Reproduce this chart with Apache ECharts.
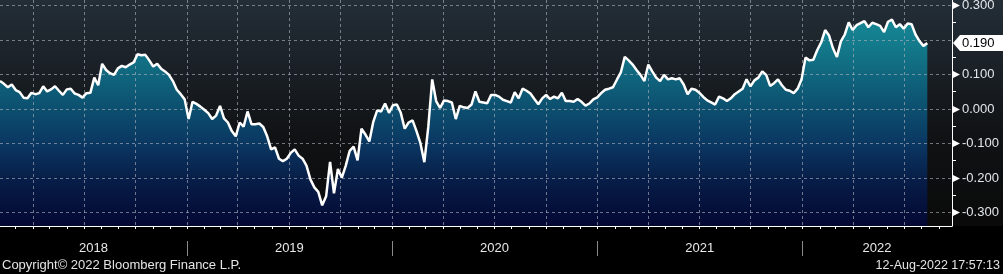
<!DOCTYPE html>
<html><head><meta charset="utf-8">
<style>html,body{margin:0;padding:0;background:#000;overflow:hidden}#c{width:1003px;height:274px;}</style>
<script src="https://cdn.jsdelivr.net/npm/echarts@6/dist/echarts.min.js"></script>
</head><body><div id="c"></div>
<script>
// ---- data ----
const firstObs = [2018, 1, 2];       // first weekly observation (year, month0, day)
const axisStart = [2018, 1, 2];
const axisEnd = [2022, 8, 25];
const values = [
 0.080, 0.072, 0.062, 0.070, 0.054, 0.048, 0.032, 0.030, 0.046, 0.042,
 0.045, 0.065, 0.050, 0.056, 0.065, 0.052, 0.040, 0.056, 0.058, 0.044,
 0.040, 0.032, 0.045, 0.046, 0.090, 0.068, 0.130, 0.112, 0.103, 0.098,
 0.117, 0.124, 0.120, 0.128, 0.134, 0.158, 0.155, 0.156, 0.140, 0.122,
 0.130, 0.116, 0.108, 0.098, 0.080, 0.055, 0.042, 0.027, -0.030, 0.020,
 0.014, 0.006, -0.003, -0.013, -0.030, -0.020, 0.008, -0.028, -0.040, -0.065,
 -0.080, -0.040, -0.052, -0.008, -0.045, -0.045, -0.043, -0.053, -0.080, -0.118,
 -0.112, -0.145, -0.152, -0.145, -0.128, -0.118, -0.136, -0.145, -0.165, -0.205,
 -0.228, -0.241, -0.280, -0.254, -0.154, -0.245, -0.175, -0.200, -0.165, -0.122,
 -0.110, -0.150, -0.058, -0.075, -0.095, -0.038, -0.005, -0.008, 0.015, -0.012,
 0.010, 0.012, -0.012, -0.058, -0.040, -0.034, -0.065, -0.100, -0.155, -0.053,
 0.085, 0.022, 0.002, 0.024, 0.022, 0.018, -0.030, 0.008, 0.004, 0.002,
 0.012, 0.050, 0.020, 0.018, 0.016, 0.040, 0.040, 0.035, 0.026, 0.022,
 0.018, 0.048, 0.030, 0.058, 0.052, 0.044, 0.028, 0.013, 0.030, 0.040,
 0.028, 0.035, 0.030, 0.046, 0.022, 0.022, 0.020, 0.028, 0.020, 0.009,
 0.015, 0.027, 0.033, 0.045, 0.055, 0.058, 0.062, 0.084, 0.105, 0.150,
 0.140, 0.128, 0.112, 0.098, 0.080, 0.128, 0.108, 0.090, 0.080, 0.098,
 0.085, 0.088, 0.085, 0.088, 0.070, 0.042, 0.058, 0.055, 0.046, 0.034,
 0.024, 0.018, 0.012, 0.035, 0.030, 0.022, 0.030, 0.042, 0.050, 0.058,
 0.085, 0.065, 0.082, 0.090, 0.108, 0.098, 0.066, 0.074, 0.085, 0.068,
 0.055, 0.052, 0.045, 0.058, 0.085, 0.148, 0.140, 0.142, 0.170, 0.192,
 0.228, 0.212, 0.175, 0.150, 0.195, 0.215, 0.250, 0.228, 0.242, 0.248,
 0.254, 0.236, 0.249, 0.245, 0.240, 0.222, 0.252, 0.258, 0.236, 0.245,
 0.232, 0.247, 0.245, 0.215, 0.196, 0.182, 0.190
];
const yLabels = [-0.3, -0.2, -0.1, 0.0, 0.1, 0.2, 0.3];
const yMinor = [-0.25, -0.15, -0.05, 0.05, 0.15, 0.25];
const years = ['2018', '2019', '2020', '2021', '2022'];
const footerLeft = 'Copyright\u00a9 2022 Bloomberg Finance L.P.';
const footerRight = '12-Aug-2022 17:57:13';

// ---- build ----
const FONT = '"Liberation Sans", Arial, sans-serif';
const GRIDC = 'rgba(175,178,190,0.62)';
const dates = values.map((v, i) => new Date(firstObs[0], firstObs[1], firstObs[2] + 7 * i).getTime());
const seriesData = values.map((v, i) => [dates[i], v]);
const xMin = new Date(axisStart[0], axisStart[1], axisStart[2]).getTime();
const xMax = new Date(axisEnd[0], axisEnd[1], axisEnd[2]).getTime();
const lastPoint = seriesData[seriesData.length - 1];

const months = [];
for (let y = +years[0]; y <= +years[years.length - 1]; y++) {
  for (let m = 0; m < 12; m++) {
    const t = new Date(y, m, 1).getTime();
    if (t >= xMin && t <= xMax) months.push([t, 0]);
  }
}
const yearData = years.map(y => [new Date(+y, 0, 1).getTime(), 0]);

function fmt(v) { const r = Math.round(v * 1000) / 1000 + 0; return r.toFixed(3); }

const areaGrad = new echarts.graphic.LinearGradient(0, 0, 0, 226, [
  {offset: 0, color: '#1a919c'},
  {offset: 0.2, color: '#137a8b'},
  {offset: 0.45, color: '#0d5472'},
  {offset: 0.65, color: '#0a3560'},
  {offset: 0.8, color: '#071d47'},
  {offset: 1, color: '#030833'}
], true);
const bgGrad = new echarts.graphic.LinearGradient(0, 0, 0, 1, [
  {offset: 0, color: '#232e37'},
  {offset: 0.3, color: '#1a2026'},
  {offset: 0.6, color: '#101214'},
  {offset: 1, color: '#0a0a0a'}
]);

const chart = echarts.init(document.getElementById('c'), null, {renderer: 'canvas'});
chart.setOption({
  animation: false,
  backgroundColor: '#000',
  grid: {left: 0, right: 51, top: 0, bottom: 48, containLabel: false},
  xAxis: {
    type: 'time', min: xMin, max: xMax, z: 10,
    axisLine: {show: true, onZero: false, lineStyle: {color: '#ffffff', width: 1}},
    axisTick: {show: false}, axisLabel: {show: false}, splitLine: {show: false}
  },
  yAxis: {
    type: 'value', position: 'right', min: -0.34, max: 0.315, z: 10,
    axisLine: {show: true, onZero: false, lineStyle: {color: '#ffffff', width: 1}},
    axisTick: {show: false}, axisLabel: {show: false}, splitLine: {show: false}
  },
  graphic: [
    {type: 'rect', left: 0, top: 0, z: -10, silent: true, shape: {width: 1003, height: 226}, style: {fill: bgGrad}},
    {type: 'text', left: 2, top: 259, style: {text: footerLeft, fill: '#e4e4e4', font: '13px ' + FONT}},
    {type: 'text', right: 3, top: 259, style: {text: footerRight, fill: '#e4e4e4', font: '12.5px ' + FONT}}
  ],
  series: [
    { // area fill
      type: 'line', data: seriesData, symbol: 'none', z: 1, silent: true,
      lineStyle: {width: 0, opacity: 0},
      areaStyle: {origin: 'start', color: areaGrad, opacity: 1}
    },
    { // vertical grid + month ticks
      type: 'custom', z: 2, silent: true, data: months,
      renderItem: function (params, api) {
        const cs = params.coordSys;
        const t = api.value(0);
        const x = Math.round(api.coord([t, 0])[0]) + 0.5;
        const bottom = cs.y + cs.height;
        const ch = [{type: 'line', shape: {x1: x, y1: bottom, x2: x, y2: bottom + 3}, style: {stroke: '#ffffff', lineWidth: 1}}];
        if (new Date(t).getMonth() % 3 === 0) {
          ch.push({type: 'line', shape: {x1: x, y1: cs.y, x2: x, y2: bottom - 1}, style: {stroke: GRIDC, lineWidth: 1, lineDash: [3, 3]}});
        }
        return {type: 'group', children: ch};
      }
    },
    { // horizontal grid + y labels
      type: 'custom', z: 2, silent: true, data: yLabels.map(v => [xMin, v]),
      renderItem: function (params, api) {
        const cs = params.coordSys;
        const v = api.value(1);
        const y = Math.round(api.coord([xMin, v])[1]) + 0.5;
        const xr = cs.x + cs.width;
        const lastY = api.coord(lastPoint)[1];
        const ch = [{type: 'line', shape: {x1: cs.x, y1: y, x2: xr, y2: y}, style: {stroke: GRIDC, lineWidth: 1, lineDash: [3, 3]}}];
        if (Math.abs(y - lastY) > 11) {
          ch.push({type: 'polygon', shape: {points: [[xr + 1, y - 3.5], [xr + 1, y + 3.5], [xr + 8, y]]}, style: {fill: '#ffffff'}});
          ch.push({type: 'text', style: {text: fmt(v), x: xr + 10, y: y, fill: '#e2e6ea', font: '13px ' + FONT, align: 'left', verticalAlign: 'middle', textAlign: 'left', textVerticalAlign: 'middle'}});
        }
        return {type: 'group', children: ch};
      }
    },
    { // minor y ticks
      type: 'custom', z: 4, silent: true, data: yMinor.map(v => [xMin, v]),
      renderItem: function (params, api) {
        const cs = params.coordSys;
        const y = Math.round(api.coord([xMin, api.value(1)])[1]) + 0.5;
        const xr = cs.x + cs.width;
        return {type: 'line', shape: {x1: xr, y1: y, x2: xr + 4, y2: y}, style: {stroke: '#ffffff', lineWidth: 1}};
      }
    },
    { // year labels + separators
      type: 'custom', z: 4, silent: true, data: yearData,
      renderItem: function (params, api) {
        const cs = params.coordSys;
        const i = params.dataIndex;
        const t0 = api.value(0);
        const t1 = new Date(+years[i] + 1, 0, 1).getTime();
        const xa = api.coord([t0, 0])[0], xb = api.coord([t1, 0])[0];
        const x0 = Math.max(xa, cs.x), x1 = Math.min(xb, cs.x + cs.width);
        const base = cs.y + cs.height;
        const ch = [{type: 'text', style: {text: years[i], x: (x0 + x1) / 2, y: base + 22, fill: '#e8e8e8', font: '13px ' + FONT, align: 'center', verticalAlign: 'middle', textAlign: 'center', textVerticalAlign: 'middle'}}];
        if (xa > cs.x + 1) {
          const sx = Math.round(xa) + 0.5;
          ch.push({type: 'line', shape: {x1: sx, y1: base + 15, x2: sx, y2: base + 30}, style: {stroke: '#8a8a8a', lineWidth: 1}});
        }
        return {type: 'group', children: ch};
      }
    },
    { // white line
      type: 'line', data: seriesData, symbol: 'none', showSymbol: false, z: 3, silent: true,
      lineStyle: {color: '#ffffff', width: 2.5}
    },
    { // last value tag
      type: 'custom', z: 6, silent: true, data: [lastPoint],
      renderItem: function (params, api) {
        const cs = params.coordSys;
        const y = Math.round(api.coord([api.value(0), api.value(1)])[1]);
        const xr = cs.x + cs.width;
        return {type: 'group', children: [
          {type: 'polygon', shape: {points: [[xr + 1, y], [xr + 8, y - 8], [1003, y - 8], [1003, y + 8], [xr + 8, y + 8]]}, style: {fill: '#ffffff'}},
          {type: 'text', style: {text: fmt(api.value(1)), x: xr + 10, y: y, fill: '#000000', font: '13px ' + FONT, align: 'left', verticalAlign: 'middle', textAlign: 'left', textVerticalAlign: 'middle'}}
        ]};
      }
    }
  ]
});
</script></body></html>
